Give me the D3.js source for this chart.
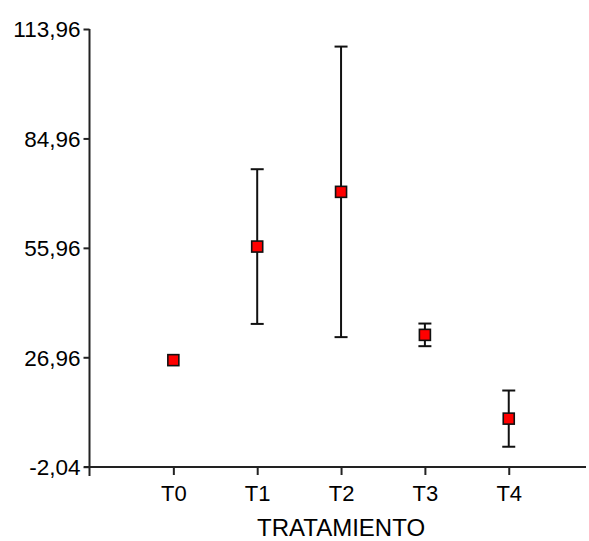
<!DOCTYPE html>
<html>
<head>
<meta charset="utf-8">
<script src="https://cdn.jsdelivr.net/npm/d3@7"></script>
<style>
  body { margin: 0; background: #fff; }
  text { font-family: "Liberation Sans", Arial, sans-serif; fill: #000; }
</style>
</head>
<body>
<div id="chart"></div>
<script>
var categories = ["T0", "T1", "T2", "T3", "T4"];
var means = [26.2, 56.3, 70.8, 32.9, 10.7];
var errors = [0, 20.5, 38.5, 3.0, 7.45];
var yTicks = [-2.04, 26.96, 55.96, 84.96, 113.96];

var imgWidth = 589,
    imgHeight = 541;

var svg = d3.select("#chart").append("svg")
    .attr("width", imgWidth)
    .attr("height", imgHeight);

var x = d3.scaleLinear().domain([0, 6]).range([89.5, 592.6]),
    y = d3.scaleLinear().domain([-2.04, 113.96]).range([466.7, 29]);

var fmt = function(d) { return d.toFixed(2).replace(".", ","); };

// y axis
var yAxis = svg.append("g")
    .attr("transform", "translate(89.5,0)")
    .call(d3.axisLeft(y).tickValues(yTicks).tickFormat(fmt).tickSize(6).tickSizeOuter(0));
yAxis.select(".domain").attr("d", "M0,29V476");
yAxis.selectAll("text").attr("font-size", "22.5px").attr("x", -9).attr("dy", "0.35em");

// x axis
var xAxis = svg.append("g")
    .attr("transform", "translate(0,467)")
    .call(d3.axisBottom(x).tickValues([1, 2, 3, 4, 5])
        .tickFormat(function(d) { return categories[d - 1]; })
        .tickSize(8).tickSizeOuter(0));
xAxis.select(".domain").attr("d", "M84,0H586");
xAxis.selectAll("text").attr("font-size", "22px").attr("y", 18).attr("dy", "0.71em");

svg.selectAll(".domain, .tick line")
    .attr("stroke", "#222")
    .attr("stroke-width", 2);

svg.append("text")
    .attr("x", x(3))
    .attr("y", 536)
    .attr("text-anchor", "middle")
    .attr("font-size", "24px")
    .text("TRATAMIENTO");

// error bars
var bars = svg.append("g").selectAll("g")
    .data(categories)
    .enter().append("g")
    .filter(function(d, i) { return errors[i] > 0; });

bars.append("line")
    .attr("x1", function(d) { return x(categories.indexOf(d) + 1); })
    .attr("x2", function(d) { return x(categories.indexOf(d) + 1); })
    .attr("y1", function(d) { var i = categories.indexOf(d); return y(means[i] + errors[i]); })
    .attr("y2", function(d) { var i = categories.indexOf(d); return y(means[i] - errors[i]); })
    .attr("stroke", "#111")
    .attr("stroke-width", 2);

[1, -1].forEach(function(s) {
  bars.append("line")
      .attr("x1", function(d) { return x(categories.indexOf(d) + 1) - 6.5; })
      .attr("x2", function(d) { return x(categories.indexOf(d) + 1) + 6.5; })
      .attr("y1", function(d) { var i = categories.indexOf(d); return y(means[i] + s * errors[i]); })
      .attr("y2", function(d) { var i = categories.indexOf(d); return y(means[i] + s * errors[i]); })
      .attr("stroke", "#111")
      .attr("stroke-width", 2);
});

// markers
svg.append("g").selectAll("rect")
    .data(means)
    .enter().append("rect")
    .attr("x", function(d, i) { return x(i + 1) - 5.5; })
    .attr("y", function(d) { return y(d) - 5.5; })
    .attr("width", 11)
    .attr("height", 11)
    .attr("fill", "#ff0000")
    .attr("stroke", "#111")
    .attr("stroke-width", 1.6);
</script>
</body>
</html>
